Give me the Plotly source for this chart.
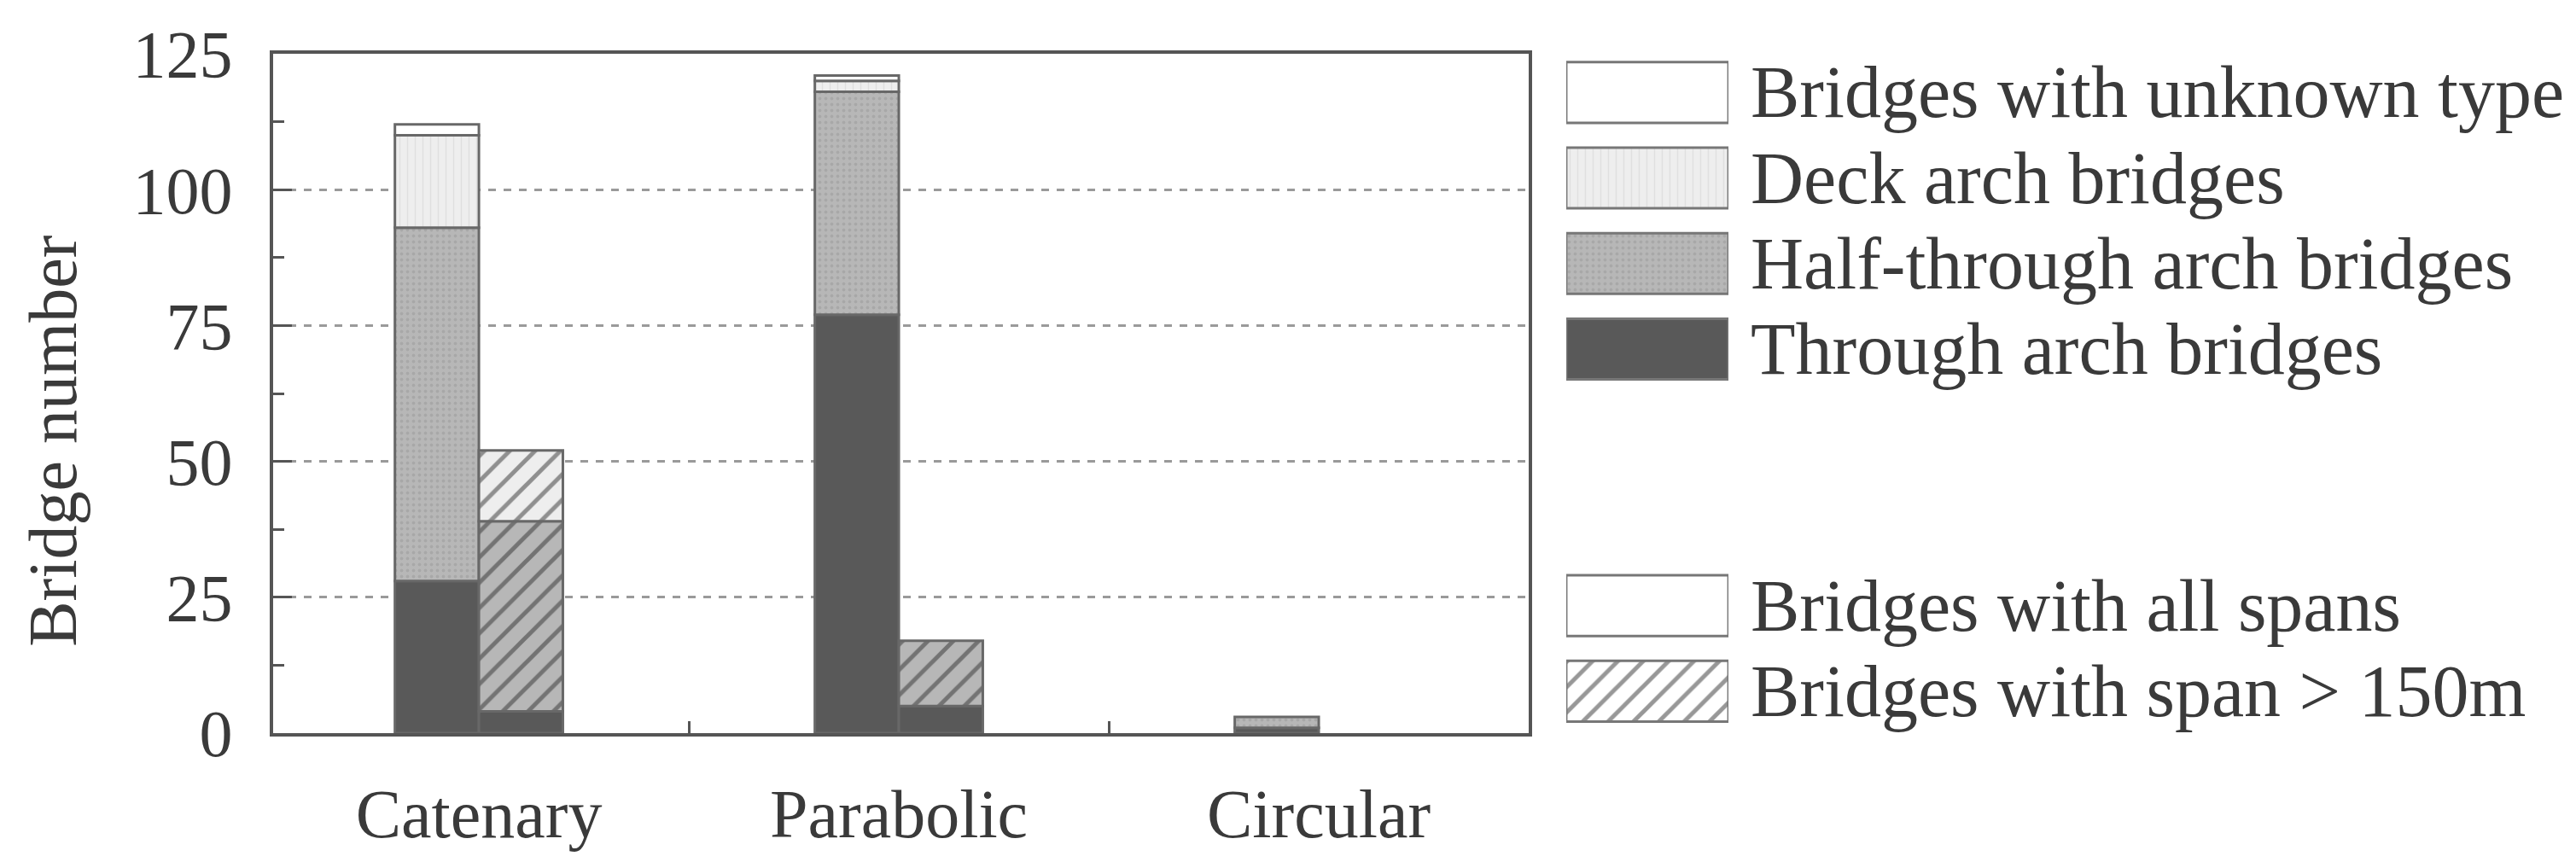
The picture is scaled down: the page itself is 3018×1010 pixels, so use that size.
import plotly.graph_objects as go

# Arch-shape categories
categories = ["Catenary", "Parabolic", "Circular"]

# Bridges with all spans, by structural type
through_all = [28, 77, 1]
half_all = [65, 41, 2]
deck_all = [17, 2, 0]
unknown_all = [2, 1, 0]

# Bridges with span > 150 m, by structural type
through_long = [4, 5, 0]
half_long = [35, 12, 0]
deck_long = [13, 0, 0]
unknown_long = [0, 0, 0]

type_names = ["Bridges with unknown type", "Deck arch bridges",
              "Half-through arch bridges", "Through arch bridges"]
span_names = ["Bridges with all spans", "Bridges with span > 150m"]

y_ticks = [0, 25, 50, 75, 100, 125]

FONT = "Liberation Serif, Times New Roman, serif"
TXT = "#3a3a3a"
EDGE = "#686868"

# fill style of each structural type (bottom to top of the stack)
styles = {
    "through": dict(color="#595959", pattern=dict(shape="")),
    "half": dict(color="#b7b7b7", pattern=dict(shape=".", size=7, solidity=0.25, fgcolor="#9a9a9a")),
    "deck": dict(color="#eeeeee", pattern=dict(shape="|", size=9, solidity=0.15, fgcolor="#d0d0d0")),
    "unknown": dict(color="#ffffff", pattern=dict(shape="")),
}
hatch = dict(shape="/", size=21, solidity=0.24, fgcolor="#303030", fillmode="overlay")

fig = go.Figure()


def add_stack(series, group, hatched):
    base = [0] * len(categories)
    for key, vals in series:
        st = styles[key]
        pat = dict(hatch) if hatched and key != "through" else st["pattern"]
        fig.add_trace(go.Bar(
            x=categories, y=vals, base=list(base), offsetgroup=group,
            marker=dict(color=st["color"], pattern=pat,
                        line=dict(color=EDGE, width=[3 if v > 0 else 0 for v in vals])),
            showlegend=False, xaxis="x", yaxis="y",
        ))
        base = [b + v for b, v in zip(base, vals)]


add_stack([("through", through_all), ("half", half_all),
           ("deck", deck_all), ("unknown", unknown_all)], "all", False)
add_stack([("through", through_long), ("half", half_long),
           ("deck", deck_long), ("unknown", unknown_long)], "long", True)

# legend swatches drawn on their own small axes
legend_rows = [0, 1, 2, 3, 6, 7]
legend_keys = ["unknown", "deck", "half", "through", "unknown", "unknown"]
legend_labels = type_names + span_names
for i, (row, key) in enumerate(zip(legend_rows, legend_keys)):
    st = styles[key]
    pat = dict(hatch) if i == 5 else st["pattern"]
    fig.add_trace(go.Bar(
        x=[1], y=[row], base=0, orientation="h", width=0.71,
        marker=dict(color=st["color"], pattern=pat, line=dict(color="#777777", width=3)),
        showlegend=False, xaxis="x2", yaxis="y2", hoverinfo="skip",
    ))
    fig.add_annotation(x=0.6456, xref="paper", y=row, yref="y2",
                       text=legend_labels[i], showarrow=False, xanchor="left",
                       yanchor="middle", font=dict(family=FONT, size=86, color=TXT))

fig.add_annotation(x=-0.0963, xref="paper", y=0.43, yref="paper",
                   text="Bridge number", textangle=-90, showarrow=False,
                   xanchor="center", yanchor="middle",
                   font=dict(family=FONT, size=80, color=TXT))

fig.update_layout(
    width=3018, height=1010,
    margin=dict(l=320, r=20, t=63, b=113),
    paper_bgcolor="white", plot_bgcolor="white",
    barmode="group", bargap=0.6, bargroupgap=0,
    showlegend=False,
    xaxis=dict(domain=[0, 0.5493], type="category", range=[-0.49, 2.5],
               showline=True, linecolor="#555555", linewidth=4, mirror=True,
               tickson="boundaries", ticks="inside", ticklen=14, tickwidth=3,
               tickcolor="#555555", showgrid=False, ticklabelstandoff=22,
               tickfont=dict(family=FONT, size=80, color=TXT)),
    yaxis=dict(domain=[0, 1], range=[0, 125], tickvals=y_ticks,
               showline=True, linecolor="#555555", linewidth=4, mirror=True,
               ticks="inside", ticklen=22, tickwidth=3, tickcolor="#555555",
               minor=dict(dtick=12.5, tick0=0, ticks="inside", ticklen=13,
                          tickwidth=3, tickcolor="#555555", showgrid=False),
               showgrid=True, gridcolor="#9a9a9a", gridwidth=3, griddash="dash",
               zeroline=False, ticklabelstandoff=28,
               tickfont=dict(family=FONT, size=78, color=TXT)),
    xaxis2=dict(domain=[0.5657, 0.6367], range=[0, 1], visible=False,
                anchor="y2", fixedrange=True),
    yaxis2=dict(domain=[0, 1], range=[7.49, -0.452], visible=False,
                anchor="x2", fixedrange=True),
)

fig.write_html("out.html")
